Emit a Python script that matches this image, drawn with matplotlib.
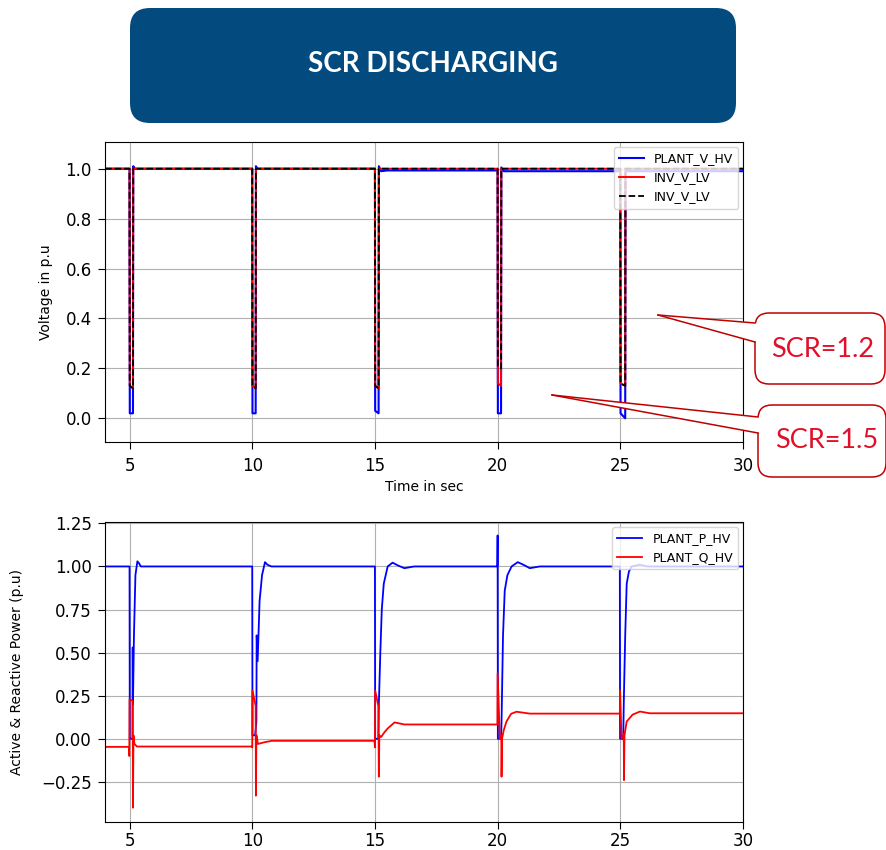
import matplotlib
matplotlib.use("Agg")
import matplotlib.pyplot as plt
from matplotlib.patches import FancyBboxPatch, Polygon
from matplotlib.lines import Line2D
from matplotlib.transforms import IdentityTransform

# ---------------- voltage traces (p.u.) ----------------
t_v = [4.0, 5.0, 5.01, 5.14, 5.15, 5.22,
       10.0, 10.01, 10.14, 10.15, 10.22,
       15.0, 15.01, 15.15, 15.16, 15.25, 15.5,
       20.0, 20.01, 20.14, 20.15, 20.25, 20.5,
       25.0, 25.01, 25.2, 25.21, 25.3, 25.5, 30.0]
v_plant_hv = [1.0, 1.0, 0.02, 0.02, 1.01, 1.0,
              1.0, 0.02, 0.02, 1.01, 1.0,
              1.0, 0.03, 0.02, 1.01, 0.99, 0.993,
              0.993, 0.02, 0.02, 1.005, 0.99, 0.99,
              0.99, 0.02, 0.0, 1.0, 0.99, 0.99, 0.99]
v_inv_lv = [1.0, 1.0, 0.13, 0.12, 1.0, 1.0,
            1.0, 0.13, 0.12, 1.0, 1.0,
            1.0, 0.13, 0.12, 1.0, 1.0, 1.0,
            1.0, 0.14, 0.13, 1.0, 1.0, 1.0,
            1.0, 0.14, 0.13, 1.0, 1.0, 1.0, 1.0]
v_inv_lv_ref = [1.0, 1.0, 0.13, 0.12, 1.0, 1.0,
                1.0, 0.13, 0.12, 1.0, 1.0,
                1.0, 0.13, 0.12, 1.0, 1.0, 1.0,
                1.0, 0.21, 0.2, 1.0, 1.0, 1.0,
                1.0, 0.14, 0.13, 1.0, 1.0, 1.0, 1.0]

# ---------------- plant active power (p.u.) ----------------
t_p = [4.0, 5.0, 5.01, 5.12, 5.13, 5.14, 5.18, 5.24, 5.32, 5.38, 5.46,
       10.0, 10.01, 10.12, 10.17, 10.18, 10.22, 10.3, 10.4, 10.52, 10.62, 10.78,
       15.0, 15.01, 15.14, 15.16, 15.22, 15.28, 15.36, 15.52, 15.72, 15.95, 16.2, 16.6,
       19.99, 20.0, 20.01, 20.14, 20.16, 20.22, 20.29, 20.4, 20.57, 20.82, 21.05, 21.31, 21.72,
       24.98, 24.99, 25.12, 25.14, 25.2, 25.26, 25.35, 25.46, 25.8, 26.1, 30.0]
p_plant_hv = [1.0, 1.0, 0.0, 0.0, 0.53, 0.2, 0.6, 0.95, 1.03, 1.02, 1.0,
              1.0, 0.02, 0.02, 0.1, 0.6, 0.45, 0.8, 0.95, 1.025, 1.01, 1.0,
              1.0, 0.0, 0.0, 0.2, 0.5, 0.75, 0.9, 1.0, 1.022, 1.005, 0.99, 1.0,
              1.0, 1.18, 0.0, 0.0, 0.1, 0.6, 0.86, 0.95, 1.0, 1.025, 1.01, 0.99, 1.0,
              1.0, 0.0, 0.0, 0.2, 0.6, 0.9, 0.97, 1.0, 1.01, 1.0, 1.0]

# ---------------- plant reactive power (p.u.) ----------------
t_q = [4.0, 4.98, 4.99, 5.0, 5.13, 5.14, 5.16, 5.2, 5.3,
       9.98, 10.0, 10.01, 10.14, 10.15, 10.17, 10.2, 10.23, 10.5, 10.8,
       14.98, 15.0, 15.01, 15.14, 15.16, 15.18, 15.25, 15.4, 15.52, 15.8, 16.2,
       19.99, 20.0, 20.09, 20.15, 20.16, 20.18, 20.25, 20.36, 20.55, 20.77, 21.31,
       24.98, 24.99, 25.05, 25.14, 25.15, 25.17, 25.26, 25.5, 25.8, 26.2, 30.0]
q_plant_hv = [-0.047, -0.047, -0.10, 0.23, 0.22, -0.40, 0.02, -0.03, -0.045,
              -0.045, -0.05, 0.28, 0.19, -0.33, 0.02, 0.0, -0.03, -0.02, -0.012,
              -0.012, -0.05, 0.28, 0.19, -0.22, 0.02, 0.01, 0.04, 0.06, 0.095, 0.083,
              0.083, 0.38, 0.0, 0.02, -0.22, 0.0, 0.05, 0.1, 0.145, 0.157, 0.146,
              0.146, 0.28, 0.0, 0.03, -0.24, 0.02, 0.1, 0.14, 0.158, 0.148, 0.148]

x_ticks = [5, 10, 15, 20, 25, 30]
v_ticks = [0.0, 0.2, 0.4, 0.6, 0.8, 1.0]
pq_ticks = [-0.25, 0.0, 0.25, 0.5, 0.75, 1.0, 1.25]

title_text = "SCR DISCHARGING"
scr_labels = ["SCR=1.2", "SCR=1.5"]

W, H = 886, 850
fig = plt.figure(figsize=(W / 100, H / 100), dpi=100)
plt.rcParams["font.family"] = ["DejaVu Sans"]


def ax_rect(left, top, right, bottom):
    return [left / W, 1 - bottom / H, (right - left) / W, (bottom - top) / H]


TICK_FS = 12
LABEL_FS = 10
LEG_FS = 9


def style_axes(ax, xpad):
    ax.tick_params(axis="both", labelsize=TICK_FS, length=5)
    ax.tick_params(axis="x", pad=xpad)
    ax.tick_params(axis="y", pad=4.5)
    ax.grid(True, color="#b0b0b0", lw=0.8)


# ---- voltage panel ----
ax1 = fig.add_axes(ax_rect(105, 142, 743, 442))
ax1.plot(t_v, v_plant_hv, color="blue", lw=1.5, label="PLANT_V_HV")
ax1.plot(t_v, v_inv_lv, color="red", lw=1.4, label="INV_V_LV")
ax1.plot(t_v, v_inv_lv_ref, color="black", lw=1.3, ls="--", label="INV_V_LV")
ax1.set_xlim(4, 30)
ax1.set_ylim(-0.095, 1.107)
ax1.set_xticks(x_ticks)
ax1.set_yticks(v_ticks)
ax1.set_yticklabels([f"{v:.1f}" for v in v_ticks])
style_axes(ax1, 5.5)
ax1.set_xlabel("Time in sec", fontsize=LABEL_FS, labelpad=4)
ax1.set_ylabel("Voltage in p.u", fontsize=LABEL_FS, labelpad=9)
ax1.legend(loc="upper right", fontsize=LEG_FS, borderaxespad=0.4)

# ---- power panel ----
ax2 = fig.add_axes(ax_rect(105, 522, 743, 822))
ax2.plot(t_p, p_plant_hv, color="blue", lw=1.3, label="PLANT_P_HV")
ax2.plot(t_q, q_plant_hv, color="red", lw=1.3, label="PLANT_Q_HV")
ax2.set_xlim(4, 30)
ax2.set_ylim(-0.483, 1.258)
ax2.set_xticks(x_ticks)
ax2.set_yticks(pq_ticks)
ax2.set_yticklabels([f"{v:.2f}".replace("-", "\u2212") for v in pq_ticks])
style_axes(ax2, 2.0)
ax2.set_ylabel("Active & Reactive Power (p.u)", fontsize=LABEL_FS, labelpad=12)
ax2.legend(loc="upper right", fontsize=LEG_FS, borderaxespad=0.4)

# ---- heading banner (pixel coordinates, origin top-left) ----
px = IdentityTransform()


def py(y):
    return H - y


banner = FancyBboxPatch((130, py(123)), 606, 115,
                        boxstyle="round,pad=0,rounding_size=20",
                        facecolor="#034a7e", edgecolor="none",
                        transform=px, zorder=5)
fig.add_artist(banner)
fig.text(432.5 / W, 1 - 64 / H, title_text, color="white", fontsize=20,
         fontweight="bold", family=["Lato", "DejaVu Sans"],
         ha="center", va="center", zorder=6)

# ---- callouts ----
EDGE = "#c00000"
TXT = "#e0102a"
callouts = [
    # tip, base top, base bottom, box (left, top, right, bottom), text centre
    ((658, 315), (755, 323), (755, 342), (755, 313, 885, 384), (823, 349), scr_labels[0]),
    ((552, 395), (758, 417), (758, 433), (758, 405, 886, 477), (827, 441), scr_labels[1]),
]
for tip, b1, b2, box, tc, label in callouts:
    l, t, r, b = box
    rect = FancyBboxPatch((l, py(b)), r - l, b - t,
                          boxstyle="round,pad=0,rounding_size=14",
                          facecolor="white", edgecolor=EDGE, lw=1.1,
                          transform=px, zorder=7)
    fig.add_artist(rect)
    tail = Polygon([(tip[0], py(tip[1])), (b1[0] + 2, py(b1[1])),
                    (b2[0] + 2, py(b2[1]))],
                   closed=True, facecolor="white", edgecolor="none",
                   transform=px, zorder=8)
    fig.add_artist(tail)
    for bx, by in (b1, b2):
        fig.add_artist(Line2D([tip[0], bx], [py(tip[1]), py(by)],
                              color=EDGE, lw=1.1, transform=px, zorder=9))
    fig.text(tc[0] / W, 1 - tc[1] / H, label,
             color=TXT, fontsize=19.5, family=["Lato", "DejaVu Sans"],
             ha="center", va="center", zorder=10)

fig.savefig("out.png", dpi=100)
